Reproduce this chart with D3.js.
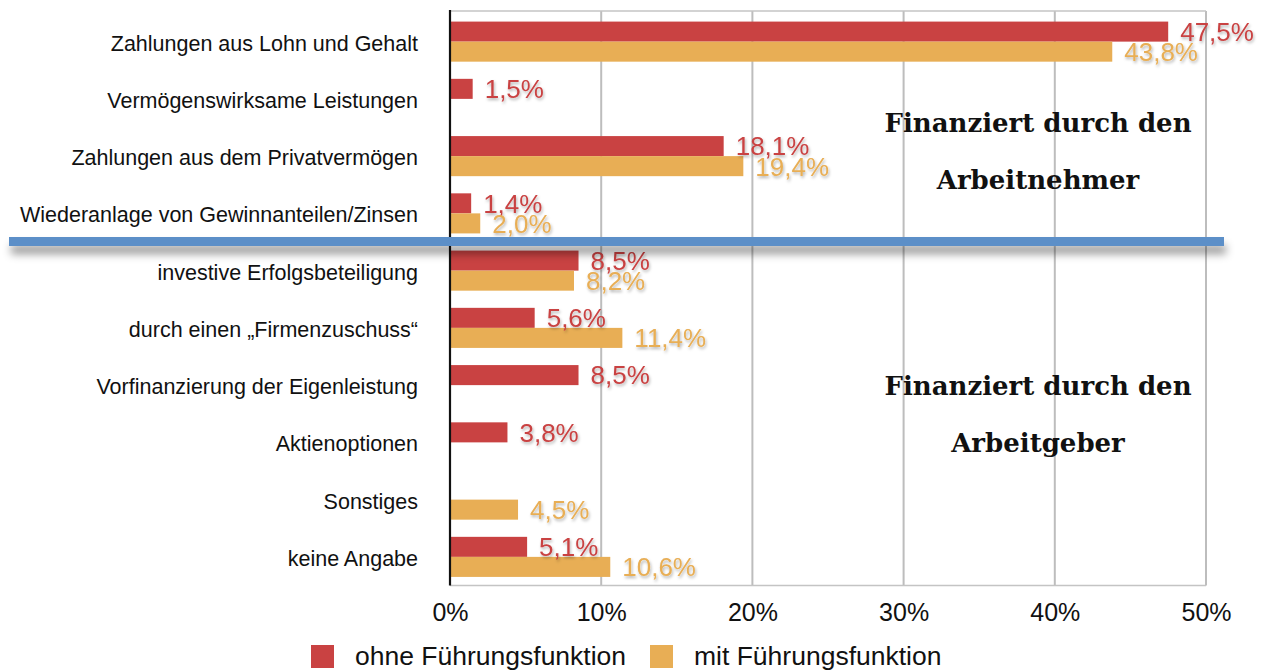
<!DOCTYPE html>
<html>
<head>
<meta charset="utf-8">
<script src="https://cdn.jsdelivr.net/npm/d3@7"></script>
<style>
  body { margin: 0; background: #fff; }
  svg { display: block; font-family: "Liberation Sans", Arial, Helvetica, sans-serif; }
</style>
</head>
<body>
<div id="chart"></div>
<script>
// categories top to bottom
const categories = [
  "Zahlungen aus Lohn und Gehalt",
  "Vermögenswirksame Leistungen",
  "Zahlungen aus dem Privatvermögen",
  "Wiederanlage von Gewinnanteilen/Zinsen",
  "investive Erfolgsbeteiligung",
  "durch einen „Firmenzuschuss“",
  "Vorfinanzierung der Eigenleistung",
  "Aktienoptionen",
  "Sonstiges",
  "keine Angabe"
];
const seriesNames = ["ohne Führungsfunktion", "mit Führungsfunktion"];
// values in percent, null = no bar
const ohneValues = [47.5, 1.5, 18.1, 1.4, 8.5, 5.6, 8.5, 3.8, null, 5.1];
const mitValues  = [43.8, null, 19.4, 2.0, 8.2, 11.4, null, null, 4.5, 10.6];
const xTicks = [0, 10, 20, 30, 40, 50];
const notes = [
  ["Finanziert durch den", "Arbeitnehmer"],
  ["Finanziert durch den", "Arbeitgeber"]
];

const width = 1267, height = 671;
const plotL = 450, plotR = 1206, plotT = 13, plotB = 585.5;
const colors = ["#c94242", "#e8ae55"];

const de = d3.formatLocale({decimal: ",", thousands: ".", grouping: [3], currency: ["", " €"]});
const fmtVal = d => de.format(".1f")(d) + "%";

const svg = d3.select("#chart").append("svg")
  .attr("width", width)
  .attr("height", height);

const defs = svg.append("defs");
defs.append("filter").attr("id", "txtShadow")
  .attr("x", "-20%").attr("y", "-40%").attr("width", "140%").attr("height", "180%")
  .append("feDropShadow")
  .attr("dx", 1).attr("dy", 2).attr("stdDeviation", 1.6)
  .attr("flood-color", "#000").attr("flood-opacity", 0.3);
defs.append("filter").attr("id", "lineShadow")
  .attr("x", "-5%").attr("y", "-200%").attr("width", "110%").attr("height", "600%")
  .append("feDropShadow")
  .attr("dx", 2).attr("dy", 8).attr("stdDeviation", 4)
  .attr("flood-color", "#000").attr("flood-opacity", 0.4);

const x = d3.scaleLinear().domain([0, 50]).range([plotL, plotR]);
const y = d3.scaleBand().domain(categories).range([plotT, plotB])
  .paddingInner(0.3).paddingOuter(0.15);
const ySub = d3.scaleBand().domain([0, 1]).range([0, y.bandwidth()]);

// grid lines
svg.append("g").selectAll("line")
  .data(xTicks.slice(1))
  .join("line")
  .attr("x1", d => x(d)).attr("x2", d => x(d))
  .attr("y1", plotT - 2).attr("y2", plotB)
  .attr("stroke", "#bdbdbd").attr("stroke-width", 2);

// frame top/bottom
[plotT - 2, plotB].forEach(v => {
  svg.append("line")
    .attr("x1", plotL).attr("x2", plotR)
    .attr("y1", v).attr("y2", v)
    .attr("stroke", "#c4c4c4").attr("stroke-width", 1.5);
});

// x axis labels
svg.append("g")
  .attr("transform", `translate(0,${plotB})`)
  .call(d3.axisBottom(x).tickValues(xTicks).tickSize(0).tickPadding(18).tickFormat(d => d + "%"))
  .call(g => g.select(".domain").remove())
  .selectAll("text")
  .attr("fill", "#111")
  .style("font-size", "25px")
  .style("font-family", "\"Liberation Sans\", Arial, sans-serif");

// category labels
svg.append("g")
  .attr("transform", `translate(${plotL},2)`)
  .call(d3.axisLeft(y).tickSize(0).tickPadding(32))
  .call(g => g.select(".domain").remove())
  .selectAll("text")
  .attr("fill", "#111")
  .style("font-size", "21.5px")
  .style("font-family", "\"Liberation Sans\", Arial, sans-serif");

// bars
const rows = categories.map((c, i) => ({cat: c, vals: [ohneValues[i], mitValues[i]]}));
const bars = [];
rows.forEach(r => r.vals.forEach((v, s) => { if (v != null) bars.push({cat: r.cat, s, v}); }));

svg.append("g").selectAll("rect")
  .data(bars)
  .join("rect")
  .attr("x", x(0))
  .attr("y", d => y(d.cat) + ySub(d.s))
  .attr("width", d => x(d.v) - x(0))
  .attr("height", ySub.bandwidth())
  .attr("fill", d => colors[d.s]);

// value labels
svg.append("g").selectAll("text")
  .data(bars)
  .join("text")
  .attr("x", d => x(d.v) + 12)
  .attr("y", d => y(d.cat) + ySub(d.s) + ySub.bandwidth() / 2)
  .attr("dy", "0.36em")
  .attr("fill", d => colors[d.s])
  .attr("filter", "url(#txtShadow)")
  .style("font-size", "26px")
  .text(d => fmtVal(d.v));

// y axis line
svg.append("line")
  .attr("x1", plotL).attr("x2", plotL)
  .attr("y1", plotT - 3).attr("y2", plotB)
  .attr("stroke", "#111").attr("stroke-width", 2.2);

// divider between employee- and employer-financed
const splitY = y(categories[4]) - y.step() * y.paddingInner() / 2;
svg.append("rect")
  .attr("x", 9).attr("width", 1215)
  .attr("y", splitY - 5).attr("height", 9)
  .attr("fill", "#5b8fc8")
  .attr("filter", "url(#lineShadow)");

// annotations
const noteY = [[123, 180], [386, 443]];
notes.forEach((lines, k) => {
  lines.forEach((t, j) => {
    svg.append("text")
      .attr("x", 1038)
      .attr("y", noteY[k][j])
      .attr("dy", "0.35em")
      .attr("text-anchor", "middle")
      .attr("fill", "#111")
      .style("font-family", "\"DejaVu Serif\", serif")
      .style("font-weight", "bold")
      .style("font-size", "26px")
      .text(t);
  });
});

// legend
const legendX = [311, 650];
const legend = svg.append("g").selectAll("g")
  .data(seriesNames)
  .join("g")
  .attr("transform", (d, i) => `translate(${legendX[i]},645)`);
legend.append("rect")
  .attr("width", 23).attr("height", 23)
  .attr("fill", (d, i) => colors[i]);
legend.append("text")
  .attr("x", 44).attr("y", 20)
  .attr("fill", "#111")
  .style("font-size", "26.5px")
  .text(d => d);
</script>
</body>
</html>
